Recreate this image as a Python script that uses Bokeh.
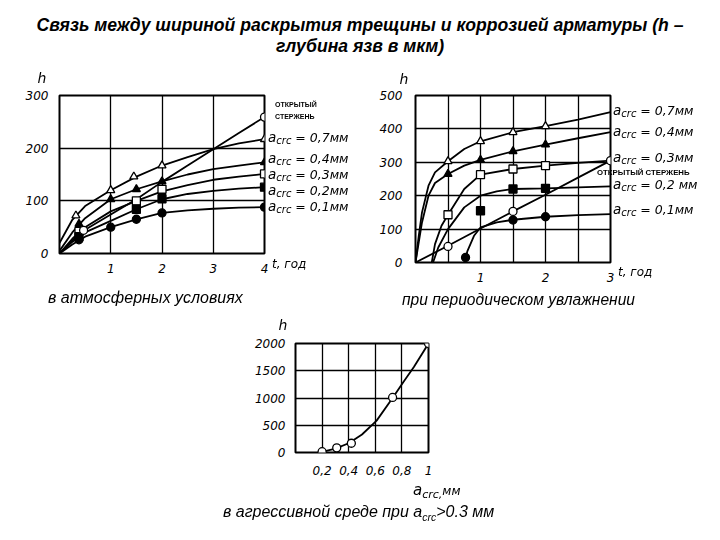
from bokeh.plotting import figure
from bokeh.models import FixedTicker, Div, Spacer, CustomJSTickFormatter
from bokeh.layouts import column, row
from bokeh.embed import file_html
from bokeh.resources import INLINE

# ---------------- texts ----------------
TITLE_LINE1 = "Связь между шириной раскрытия трещины и коррозией арматуры (h –"
TITLE_LINE2 = "глубина язв в мкм)"
CAPTION_1 = "в атмосферных условиях"
CAPTION_2 = "при периодическом увлажнении"
CAPTION_3_MAIN = "в агрессивной среде при a"
CAPTION_3_SUB = "crc"
CAPTION_3_TAIL = ">0.3 мм"
OPEN_ROD_1 = "ОТКРЫТЫЙ"
OPEN_ROD_2 = "СТЕРЖЕНЬ"
T_LABEL = "t, год"
H_LABEL = "h"

# ---------------- chart 1: atmospheric conditions ----------------
atm_x_ticks = [1, 2, 3, 4]
atm_y_ticks = [0, 100, 200, 300]
atm_t = [0, 0.25, 0.5, 1, 1.5, 2, 2.5, 3, 3.5, 4]
atm_h_07 = [20, 64, 90, 120, 146, 167, 183, 198, 209, 217]
atm_h_04 = [5, 40, 67, 103, 122, 137, 150, 160, 167, 173]
atm_h_03 = [0, 28, 50, 80, 100, 118, 130, 140, 146, 151]
atm_h_02 = [0, 22, 40, 62, 84, 103, 113, 119, 123, 126]
atm_h_01 = [0, 17, 32, 50, 65, 77, 82, 85, 87, 88]
atm_h_open = [0, 25, 45, 74, 103, 136, 167, 198, 229, 259]

atm_m07_t = [0.32, 1.0, 1.45, 2.0, 4.0]
atm_m07_h = [72, 120, 146, 167, 217]
atm_m04_t = [0.38, 1.0, 1.5, 2.0, 4.0]
atm_m04_h = [56, 103, 122, 137, 173]
atm_m03_t = [0.38, 1.5, 2.0, 4.0]
atm_m03_h = [42, 100, 122, 151]
atm_m02_t = [0.38, 1.5, 2.0, 4.0]
atm_m02_h = [32, 84, 104, 126]
atm_m01_t = [0.38, 1.0, 1.5, 2.0, 4.0]
atm_m01_h = [26, 50, 65, 77, 88]
atm_mopen_t = [0.47, 4.0]
atm_mopen_h = [44, 259]
atm_labels = ["0,7мм", "0,4мм", "0,3мм", "0,2мм", "0,1мм"]

# ---------------- chart 2: periodic wetting ----------------
per_x_ticks = [1, 2, 3]
per_y_ticks = [0, 100, 200, 300, 400, 500]
per_t_hi = [0, 0.05, 0.1, 0.2, 0.3, 0.5, 0.75, 1, 1.5, 2, 2.5, 3]
per_h_07 = [0, 80, 150, 230, 270, 303, 340, 363, 390, 408, 428, 450]
per_h_04 = [0, 60, 120, 200, 238, 265, 290, 307, 333, 353, 372, 390]
per_t_03 = [0.25, 0.3, 0.4, 0.5, 0.75, 1, 1.5, 2, 2.5, 3]
per_h_03 = [0, 55, 110, 143, 220, 263, 280, 290, 298, 305]
per_t_02 = [0.27, 0.35, 0.5, 0.75, 1, 1.25, 1.5, 2, 2.5, 3]
per_h_02 = [0, 45, 100, 165, 200, 213, 220, 222, 225, 228]
per_t_01 = [0.75, 0.8, 0.9, 1, 1.25, 1.5, 2, 2.5, 3]
per_h_01 = [0, 35, 80, 105, 120, 128, 137, 142, 145]
per_t_open = [0, 0.5, 1, 1.5, 2, 2.5, 3]
per_h_open = [0, 50, 102, 153, 203, 254, 305]

per_m07_t = [0.5, 1, 1.5, 2]
per_m07_h = [303, 363, 390, 408]
per_m04_t = [0.5, 1, 1.5, 2]
per_m04_h = [265, 307, 333, 353]
per_m03_t = [0.5, 1, 1.5, 2]
per_m03_h = [143, 263, 280, 290]
per_m02_t = [1, 1.5, 2]
per_m02_h = [155, 220, 222]
per_m01_t = [0.77, 1.5, 2]
per_m01_h = [15, 127, 137]
per_mopen_t = [0.5, 1.5, 3]
per_mopen_h = [48, 153, 305]
per_labels = ["0,7мм", "0,4мм", "0,3мм", "0,2 мм", "0,1мм"]

# ---------------- chart 3: aggressive environment ----------------
agr_x_ticks = [0.2, 0.4, 0.6, 0.8, 1.0]
agr_y_ticks = [0, 500, 1000, 1500, 2000]
agr_a = [0.2, 0.3, 0.4, 0.5, 0.61, 0.73, 0.81, 0.89, 1.0]
agr_h = [10, 70, 170, 330, 585, 1000, 1290, 1570, 2000]
agr_ma = [0.2, 0.31, 0.42, 0.73, 1.0]
agr_mh = [15, 85, 170, 1010, 2000]

TICK_FONT = "DejaVu Sans"
LAB_FONT = "'DejaVu Sans', sans-serif"
CAP_FONT = "'Liberation Sans', Arial, sans-serif"


def style(p, xticks, yticks, xgrid, ygrid):
    p.outline_line_color = "black"
    p.outline_line_width = 2
    p.background_fill_color = "white"
    p.border_fill_color = None
    for ax in (p.xaxis, p.yaxis):
        ax.axis_line_color = None
        ax.major_tick_line_color = None
        ax.minor_tick_line_color = None
        ax.major_label_text_font = TICK_FONT
        ax.major_label_text_font_style = "italic"
        ax.major_label_text_font_size = "12px"
        ax.major_label_text_color = "black"
    p.xaxis.ticker = FixedTicker(ticks=xticks)
    p.yaxis.ticker = FixedTicker(ticks=yticks)
    p.xgrid.ticker = FixedTicker(ticks=xgrid)
    p.ygrid.ticker = FixedTicker(ticks=ygrid)
    for g in (p.xgrid, p.ygrid):
        g.grid_line_color = "black"
        g.grid_line_width = 1.3
        g.grid_line_alpha = 1.0


def curve(p, t, h):
    p.line(t, h, line_color="black", line_width=1.8)


def marks(p, t, h, kind, filled):
    p.scatter(t, h, marker=kind, size=8, line_color="black", line_width=1.3,
              fill_color="black" if filled else "white")


# ---------------- page texts outside the plot frames ----------------
def span(x, y, inner, size, family=LAB_FONT, fstyle="italic", weight="normal",
         align="left", lh="1"):
    tx = {"left": "0", "center": "-50%", "right": "-100%"}[align]
    return ('<span style="position:fixed;left:%spx;top:%spx;transform:translate(%s,-50%%);'
            'white-space:nowrap;font-family:%s;font-size:%spx;font-style:%s;'
            'font-weight:%s;line-height:%s;color:black;z-index:10;">%s</span>'
            % (x, y, tx, family, size, fstyle, weight, lh, inner))


def sub(text, size, drop=3):
    return ('<span style="font-size:%spx;position:relative;top:%spx;">%s</span>'
            % (size, drop, text))


def crc(val):
    return ('<span style="font-size:13.5px;">a</span>' + sub("crc", 10, 2)
            + " = " + val)


texts = []
for val, yy in zip(atm_labels, [138, 159, 175, 191, 207]):
    texts.append(span(268, yy, crc(val), 12.5))
for val, yy in zip(per_labels, [111, 132, 158, 185, 210]):
    texts.append(span(613, yy, crc(val), 12.5))
texts.append(span(275, 104, OPEN_ROD_1, 7, CAP_FONT, "normal", "bold"))
texts.append(span(275, 116, OPEN_ROD_2, 7, CAP_FONT, "normal", "bold"))
texts.append(span(597, 173, OPEN_ROD_1 + " " + OPEN_ROD_2, 7.8, CAP_FONT, "normal", "bold"))
texts.append(span(42, 78, H_LABEL, 14, align="center"))
texts.append(span(404, 79, H_LABEL, 14, align="center"))
texts.append(span(283, 325, H_LABEL, 14, align="center"))
texts.append(span(272, 264, T_LABEL, 12))
texts.append(span(618, 272, T_LABEL, 12))
texts.append(span(413, 490, '<span style="font-size:15px;">a</span>' + sub("crc,", 11) + "мм", 12))
texts.append(span(48, 298, CAPTION_1, 16, CAP_FONT, lh="1.15"))
texts.append(span(402, 300, CAPTION_2, 15.6, CAP_FONT, lh="1.15"))
texts.append(span(223, 512, CAPTION_3_MAIN + sub(CAPTION_3_SUB, 10.5, 4) + CAPTION_3_TAIL,
                  16, CAP_FONT, lh="1.15"))

# ---------------- figure 1 ----------------
f1 = figure(width=360, height=245, x_range=(0, 4), y_range=(0, 300),
            output_backend="svg", toolbar_location=None, frame_align=False,
            min_border_left=59, min_border_right=96,
            min_border_top=30, min_border_bottom=57)
style(f1, atm_x_ticks, atm_y_ticks, [1, 2, 3], [100, 200])
f1.xaxis.major_label_standoff = 4
f1.yaxis.major_label_standoff = 5
for hh in (atm_h_07, atm_h_04, atm_h_03, atm_h_02, atm_h_01, atm_h_open):
    curve(f1, atm_t, hh)
marks(f1, atm_m07_t, atm_m07_h, "triangle", False)
marks(f1, atm_m04_t, atm_m04_h, "triangle", True)
marks(f1, atm_m03_t, atm_m03_h, "square", False)
marks(f1, atm_m02_t, atm_m02_h, "square", True)
marks(f1, atm_m01_t, atm_m01_h, "circle", True)
marks(f1, atm_mopen_t, atm_mopen_h, "circle", False)

# ---------------- figure 2 ----------------
f2 = figure(width=360, height=245, x_range=(0, 3), y_range=(0, 500),
            output_backend="svg", toolbar_location=None, frame_align=False,
            min_border_left=55, min_border_right=110,
            min_border_top=30, min_border_bottom=48)
style(f2, per_x_ticks, per_y_ticks, [0.5, 1, 1.5, 2, 2.5], [100, 200, 300, 400])
f2.xaxis.major_label_standoff = 4
f2.yaxis.major_label_standoff = 7
curve(f2, per_t_hi, per_h_07)
curve(f2, per_t_hi, per_h_04)
curve(f2, per_t_03, per_h_03)
curve(f2, per_t_02, per_h_02)
curve(f2, per_t_01, per_h_01)
curve(f2, per_t_open, per_h_open)
marks(f2, per_m07_t, per_m07_h, "triangle", False)
marks(f2, per_m04_t, per_m04_h, "triangle", True)
marks(f2, per_m03_t, per_m03_h, "square", False)
marks(f2, per_m02_t, per_m02_h, "square", True)
marks(f2, per_m01_t, per_m01_h, "circle", True)
marks(f2, per_mopen_t, per_mopen_h, "circle", False)

# ---------------- figure 3 ----------------
f3 = figure(width=320, height=230, x_range=(0, 1), y_range=(0, 2000),
            output_backend="svg", toolbar_location=None, frame_align=False,
            min_border_left=95, min_border_right=92,
            min_border_top=33, min_border_bottom=88)
style(f3, agr_x_ticks, agr_y_ticks, [0.2, 0.4, 0.6, 0.8], [500, 1000, 1500])
f3.xaxis.formatter = CustomJSTickFormatter(
    code="return (Math.round(tick*10)/10).toString().replace('.', ',');")
f3.xaxis.major_label_standoff = 7
f3.yaxis.major_label_standoff = 4
curve(f3, agr_a, agr_h)
marks(f3, agr_ma, agr_mh, "circle", False)

title = Div(
    text=('<div style="width:720px;text-align:center;font-family:\'Liberation Sans\',Arial,sans-serif;'
          'font-weight:bold;font-style:italic;font-size:17.6px;line-height:21px;padding-top:15px;color:black;">'
          + TITLE_LINE1 + "<br>" + TITLE_LINE2 + "</div>" + "".join(texts)),
    width=720, height=65, margin=(0, 0, 0, 0))

layout = column(title, row(f1, f2), row(Spacer(width=200, height=230), f3))

open("out.html", "w").write(file_html(layout, INLINE))
